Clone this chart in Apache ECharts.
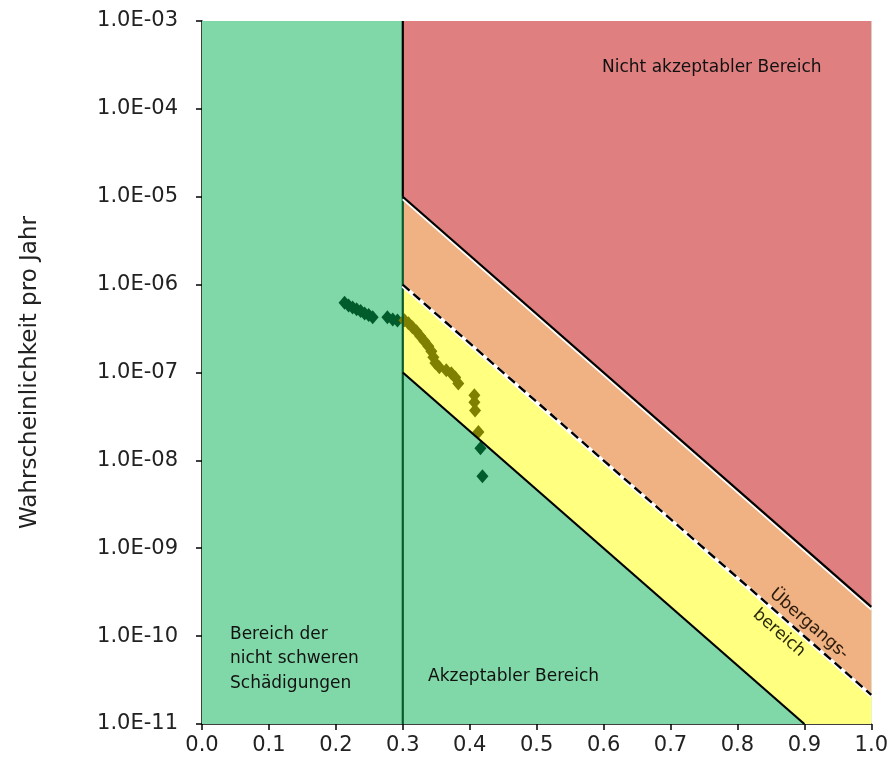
<!DOCTYPE html>
<html>
<head>
<meta charset="utf-8">
<script src="https://cdn.jsdelivr.net/npm/echarts@6/dist/echarts.min.js"></script>
<style>html,body{margin:0;padding:0;background:#fff;}#c{width:891px;height:772px;}</style>
</head>
<body>
<div id="c"></div>
<script>
// ---- data ----
const xTickValues = [0, 0.1, 0.2, 0.3, 0.4, 0.5, 0.6, 0.7, 0.8, 0.9, 1.0];
const yDecades = [1e-11, 1e-10, 1e-9, 1e-8, 1e-7, 1e-6, 1e-5, 1e-4, 1e-3];

// regions (vertices in data coordinates)
const greenRegion  = [[0, 1e-11], [1.0, 1e-11], [1.0, 1e-3], [0, 1e-3]];
const redRegion    = [[0.3, 1e-3], [1.0, 1e-3], [1.0, 2.15e-10], [0.3, 1e-5]];
const orangeRegion = [[0.3, 1e-5], [1.0, 2.15e-10], [1.0, 2.15e-11], [0.3, 1e-6]];
const yellowRegion = [[0.3, 1e-6], [1.0, 2.15e-11], [1.0, 1e-11], [0.9, 1e-11], [0.3, 1e-7]];

// boundary lines
const upperLine   = [[0.3, 1e-5], [1.0, 2.15e-10]];
const dashedLine  = [[0.3, 1e-6], [1.0, 2.15e-11]];
const lowerLine   = [[0.3, 1e-7], [0.9, 1e-11]];
const verticalTop = [[0.3, 1e-3], [0.3, 1e-5]];
const verticalLow = [[0.3, 1e-5], [0.3, 1e-11]];

// scatter points
const pointsOutside = [
  [0.213, 6.2e-7], [0.219, 5.8e-7], [0.225, 5.5e-7], [0.231, 5.25e-7],
  [0.237, 5.0e-7], [0.243, 4.7e-7], [0.249, 4.5e-7], [0.255, 4.25e-7],
  [0.277, 4.25e-7], [0.285, 4.0e-7], [0.292, 3.9e-7],
  [0.416, 1.37e-8], [0.419, 6.6e-9]
];
const pointsInside = [
  [0.3025, 3.94e-7], [0.3085, 3.64e-7], [0.3144, 3.28e-7], [0.3204, 2.95e-7],
  [0.3263, 2.59e-7], [0.3323, 2.27e-7], [0.3382, 1.99e-7], [0.3427, 1.75e-7],
  [0.3457, 1.49e-7], [0.3487, 1.28e-7], [0.3546, 1.15e-7], [0.365, 1.06e-7],
  [0.3725, 9.8e-8], [0.3784, 8.8e-8], [0.3829, 7.5e-8],
  [0.407, 5.5e-8], [0.407, 4.6e-8], [0.408, 3.7e-8], [0.413, 2.1e-8]
];

// ---- chart ----
const FONT = 'DejaVu Sans';
const chart = echarts.init(document.getElementById('c'), null, {renderer: 'canvas'});

function polygonSeries(pts, color, z) {
  return {
    type: 'custom', coordinateSystem: 'cartesian2d', silent: true, z: z, clip: false,
    data: [[0.5, 1e-7]],
    renderItem: function (params, api) {
      return {type: 'polygon', shape: {points: pts.map(function (q) { return api.coord(q); })},
              style: {fill: color}};
    }
  };
}
function lineSeries(pts, opts, z) {
  return {
    type: 'custom', coordinateSystem: 'cartesian2d', silent: true, z: z, clip: false,
    data: [[0.5, 1e-7]],
    renderItem: function (params, api) {
      const c = pts.map(function (q) { return api.coord(q); });
      const children = [];
      if (opts.white) {
        children.push({type: 'polyline',
          shape: {points: c.map(function (p) { return [p[0], p[1] + opts.white.offset]; })},
          style: {stroke: '#ffffff', lineWidth: opts.white.width, fill: null}});
      }
      children.push({type: 'polyline', shape: {points: c},
        style: {stroke: opts.color, lineWidth: opts.width, fill: null, lineDash: opts.dash || null}});
      return {type: 'group', children: children};
    }
  };
}

function yLabel(v) {
  const e = Math.round(Math.log10(v));
  return '1.0E' + (e < 0 ? '-' : '+') + String(Math.abs(e)).padStart(2, '0');
}

const option = {
  animation: false,
  backgroundColor: '#ffffff',
  grid: {left: 202, right: 17, top: 21, bottom: 48, containLabel: false},
  xAxis: {
    type: 'value', min: 0, max: 1, interval: 0.1,
    axisLine: {show: true, lineStyle: {color: '#000', width: 1.5}},
    axisTick: {show: true, inside: false, length: 6, lineStyle: {color: '#000', width: 1.5}},
    axisLabel: {color: '#222', fontFamily: FONT, fontSize: 21, margin: 11,
                formatter: function (v) { return v.toFixed(1); }},
    splitLine: {show: false}
  },
  yAxis: {
    type: 'log', logBase: 10, min: yDecades[0], max: yDecades[yDecades.length - 1],
    name: 'Wahrscheinlichkeit pro Jahr', nameLocation: 'middle', nameGap: 160,
    nameTextStyle: {color: '#222', fontFamily: FONT, fontSize: 23},
    axisLine: {show: true, lineStyle: {color: '#000', width: 1.5}},
    axisTick: {show: true, inside: false, length: 6, lineStyle: {color: '#000', width: 1.5}},
    minorTick: {show: false},
    axisLabel: {color: '#222', fontFamily: FONT, fontSize: 21, margin: 24, formatter: yLabel},
    splitLine: {show: false}
  },
  series: [
    polygonSeries(greenRegion, '#80d8a8', 1),
    polygonSeries(redRegion, '#df7f7f', 2),
    polygonSeries(orangeRegion, '#f0b283', 2),
    polygonSeries(yellowRegion, '#ffff80', 2),
    {type: 'scatter', data: pointsOutside, symbol: 'diamond', symbolSize: [12, 14], z: 4,
     itemStyle: {color: '#005c2c', opacity: 1}},
    {type: 'scatter', data: pointsInside, symbol: 'diamond', symbolSize: [12, 14], z: 4,
     itemStyle: {color: '#7f7f00', opacity: 1}},
    lineSeries(verticalLow, {color: '#0b5a2c', width: 2.2}, 6),
    lineSeries(verticalTop, {color: '#000000', width: 2.2}, 6),
    lineSeries(upperLine, {color: '#000000', width: 2.2, white: {offset: 2.5, width: 2}}, 6),
    lineSeries(dashedLine, {color: '#000000', width: 2.4, dash: [9, 5], white: {offset: 1, width: 4}}, 6),
    lineSeries(lowerLine, {color: '#000000', width: 2.2}, 6)
  ],
  graphic: [
    {type: 'text', left: 602, top: 59, z: 10,
     style: {text: 'Nicht akzeptabler Bereich', font: '17px "DejaVu Sans"', fill: '#111'}},
    {type: 'text', left: 230, top: 622, z: 10,
     style: {text: 'Bereich der\nnicht schweren\nSchädigungen', font: '17px "DejaVu Sans"',
             fill: '#111', lineHeight: 24.5}},
    {type: 'text', left: 428, top: 668, z: 10,
     style: {text: 'Akzeptabler Bereich', font: '17px "DejaVu Sans"', fill: '#111'}},
    {type: 'text', x: 809, y: 624, rotation: -41 * Math.PI / 180, z: 10,
     style: {text: 'Übergangs-', font: '17px "DejaVu Sans"', fill: '#2a1a0a',
             textAlign: 'center', textVerticalAlign: 'middle'}},
    {type: 'text', x: 779, y: 633, rotation: -41 * Math.PI / 180, z: 10,
     style: {text: 'bereich', font: '17px "DejaVu Sans"', fill: '#2a2a0a',
             textAlign: 'center', textVerticalAlign: 'middle'}}
  ]
};
chart.setOption(option);
</script>
</body>
</html>
